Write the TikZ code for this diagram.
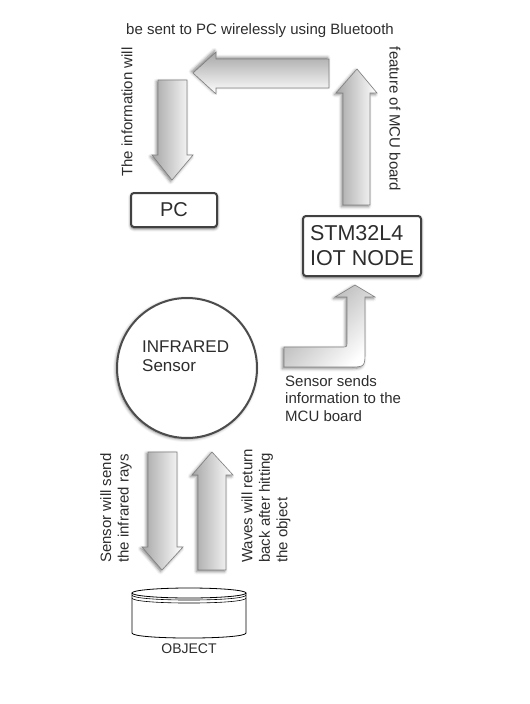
\documentclass[tikz,border=0pt]{standalone}
\usepackage{fontspec}
\setmainfont{Liberation Sans}
\usetikzlibrary{calc, shapes, shadows.blur}
\definecolor{mytext}{RGB}{45, 45, 45}
\definecolor{myedge}{RGB}{65, 65, 65}

\begin{document}
\begin{tikzpicture}[
    x = 1pt, y = -1pt,
    every node/.style = {text = mytext, font = \fontsize{15}{17.5}\selectfont},
    box/.style = {draw = myedge, line width = 2pt, rounded corners = 3pt, fill = white, blur shadow = {shadow xshift = 0pt, shadow yshift = -1.5pt, shadow blur radius = 3pt, shadow opacity = 70}},
    vbar/.style = {draw = gray, line width = 0.6pt, left color = gray!70, right color = white, blur shadow = {shadow xshift = -1.5pt, shadow yshift = -1.5pt, shadow blur radius = 3pt, shadow opacity = 50}},
    hbar/.style = {draw = gray, line width = 0.6pt, top color = gray!70, bottom color = white, blur shadow = {shadow xshift = -1.5pt, shadow yshift = 1.5pt, shadow blur radius = 3pt, shadow opacity = 50}},
]
\useasboundingbox (0,0) rectangle (530,704);

% top loop: board -> PC
\path[hbar] (329,59) -- (216,59) -- (216,52) -- (193,73) -- (216,94) -- (216,88) -- (329,88) -- cycle;
\path[vbar] (158,80) -- (187,80) -- (187,155) -- (193,155) -- (172,180) -- (152,155) -- (158,155) -- cycle;
\path[vbar] (343,205) -- (343,93) -- (336,93) -- (357,69) -- (377,93) -- (370,93) -- (370,205) -- cycle;

\node (sendText) at (260,31) {be sent to PC wirelessly using Bluetooth};
\node[rotate = 90] (infoText) at (127,112) {The information will};
\node[rotate = -90] (featText) at (395,119) {feature of MCU board};

\node[box, minimum width = 86pt, minimum height = 34pt, font = \fontsize{20}{24}\selectfont] (pc) at (174,210) {PC};
\node[box, align = left, minimum width = 118pt, minimum height = 60pt, font = \fontsize{21.5}{25}\selectfont] (mcu) at (362,246) {STM32L4\\IOT NODE};

% sensor and bent arrow
\path[vbar, top color = gray!70, bottom color = white, shading angle = 45] (284,347) -- (342,347) .. controls (347,347) .. (347,342) -- (347,297) -- (335,297) -- (355,285) -- (375,297) -- (365,297) -- (365,351) .. controls (365,367) .. (349,367) -- (284,367) -- cycle;

\node[circle, draw = gray!60!black, line width = 2pt, minimum size = 140pt, fill = white, blur shadow = {shadow xshift = -1pt, shadow yshift = -1pt, shadow blur radius = 3pt, shadow opacity = 55}] (sensor) at (187,368) {};
\node[anchor = north west, align = left, inner sep = 0pt, font = \fontsize{17}{19}\selectfont] (sensorText) at (142,341) {INFRARED\\Sensor};
\node[anchor = north west, align = left, inner sep = 0pt] (mcuText) at (285,375) {Sensor sends\\information to the\\MCU board};

% rays
\path[vbar] (148,452) -- (177,452) -- (177,547) -- (183,547) -- (162,570) -- (142,547) -- (148,547) -- cycle;
\path[vbar] (198,570) -- (198,475) -- (192,475) -- (212,452) -- (233,475) -- (226,475) -- (226,570) -- cycle;
\node[rotate = 90, anchor = west, align = left, inner sep = 0pt] (sendRays) at (116,563) {Sensor will send\\the infrared rays};
\node[rotate = 90, anchor = west, align = left, inner sep = 0pt] (returnRays) at (266,563) {Waves will return\\back after hitting\\the object};

% object
\draw[line width = 0.8pt, fill = white] (132,593) -- (132,633) .. controls (132,639.7) and (246,639.7) .. (246,633) -- (246,593);
\draw[line width = 0.8pt, fill = white] (189,593) ellipse (57pt and 5pt);
\draw[line width = 0.6pt] (132,595) .. controls (132,601.7) and (246,601.7) .. (246,595);
\draw[line width = 0.6pt] (132,598) .. controls (132,604.7) and (246,604.7) .. (246,598);
\node[font = \fontsize{14}{16}\selectfont] (objText) at (189,649) {OBJECT};

\end{tikzpicture}
\end{document}
